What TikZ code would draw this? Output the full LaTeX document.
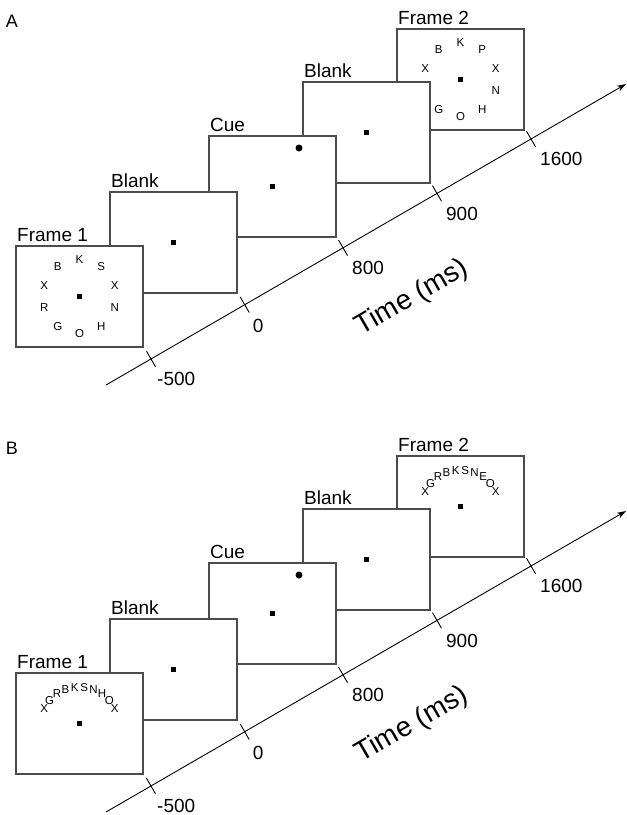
\documentclass[tikz,border=0pt]{standalone}
\usepackage{fontspec}
\setmainfont{Liberation Sans}
\usetikzlibrary{calc,arrows.meta}
\tikzset{
  scrbox/.style={draw=black!70, line width=1.2pt, fill=white, minimum width=127pt, minimum height=101pt, inner sep=0pt, outer sep=0pt},
  fixdot/.style={fill=black, minimum size=5.5pt, inner sep=0pt},
  cuedot/.style={circle, fill=black, minimum size=7pt, inner sep=0pt},
  boxlab/.style={font=\fontsize{19}{22}\selectfont, anchor=base west, inner sep=0pt},
  ltr/.style={font=\fontsize{11.5}{13}\selectfont, inner sep=0pt},
  ticklab/.style={font=\fontsize{19}{22}\selectfont, anchor=north west, inner sep=0pt},
  tickmark/.style={line width=0.9pt},
  timeaxis/.style={line width=0.9pt, -{Stealth[length=9pt,width=6pt]}},
  timelab/.style={font=\fontsize{28}{32}\selectfont, rotate=30, inner sep=0pt},
  panlab/.style={font=\fontsize{18}{20}\selectfont, inner sep=0pt}
}
\newcommand{\timepanel}[3]{%
\begin{scope}[yshift=#2]
  \node[panlab] (#1pl) at (12,21) {#3};
  \node[scrbox] (#1f2) at (460.5,79.5) {};
  \node[scrbox] (#1b2) at (366.5,132.5) {};
  \node[scrbox] (#1cue) at (272.5,186.5) {};
  \node[scrbox] (#1b1) at (173.5,242.5) {};
  \node[scrbox] (#1f1) at (79.5,296.5) {};
  \node[boxlab] (#1lf2) at ($(#1f2.north west)+(1,-4.5)$) {Frame 2};
  \node[boxlab] (#1lb2) at ($(#1b2.north west)+(1,-4.5)$) {Blank};
  \node[boxlab] (#1lcue) at ($(#1cue.north west)+(1,-4.5)$) {Cue};
  \node[boxlab] (#1lb1) at ($(#1b1.north west)+(1,-4.5)$) {Blank};
  \node[boxlab] (#1lf1) at ($(#1f1.north west)+(1,-4.5)$) {Frame 1};
  \node[fixdot] (#1xf2) at (#1f2.center) {};
  \node[fixdot] (#1xb2) at (#1b2.center) {};
  \node[fixdot] (#1xcue) at (#1cue.center) {};
  \node[fixdot] (#1xb1) at (#1b1.center) {};
  \node[fixdot] (#1xf1) at (#1f1.center) {};
  \node[cuedot] (#1cd) at ($(#1cue.center)+(26.5,-38.5)$) {};
  \coordinate (#1s) at (106,385);
  \coordinate (#1e) at (626,84);
  \draw[timeaxis] (#1s) -- (#1e);
  \path (#1s) -- (#1e)
    coordinate[pos=0.0865] (#1t1)
    coordinate[pos=0.2667] (#1t2)
    coordinate[pos=0.4558] (#1t3)
    coordinate[pos=0.6365] (#1t4)
    coordinate[pos=0.8173] (#1t5);
  \draw[tickmark] ($(#1t1)!9pt!90:(#1e)$) -- ($(#1t1)!9pt!-90:(#1e)$);
  \draw[tickmark] ($(#1t2)!9pt!90:(#1e)$) -- ($(#1t2)!9pt!-90:(#1e)$);
  \draw[tickmark] ($(#1t3)!9pt!90:(#1e)$) -- ($(#1t3)!9pt!-90:(#1e)$);
  \draw[tickmark] ($(#1t4)!9pt!90:(#1e)$) -- ($(#1t4)!9pt!-90:(#1e)$);
  \draw[tickmark] ($(#1t5)!9pt!90:(#1e)$) -- ($(#1t5)!9pt!-90:(#1e)$);
  \node[ticklab] (#1l1) at ($(#1t1)+(6,13)$) {-500};
  \node[ticklab] (#1l2) at ($(#1t2)+(8,14)$) {0};
  \node[ticklab] (#1l3) at ($(#1t3)+(9,13.5)$) {800};
  \node[ticklab] (#1l4) at ($(#1t4)+(9,13.5)$) {900};
  \node[ticklab] (#1l5) at ($(#1t5)+(9,13)$) {1600};
  \node[timelab] (#1time) at (412,298) {Time (ms)};
\end{scope}}
\begin{document}
\begin{tikzpicture}[x=1pt,y=-1pt]
\useasboundingbox (0,0) rectangle (627,815);
\timepanel{a}{0pt}{A}
\timepanel{b}{-427pt}{B}
% panel A letters (ring)
\foreach \ang/\l [count=\i] in {90/K,126/B,162/X,198/R,234/G,270/O,306/H,342/N,18/X,54/S}
  \node[ltr] (af1l\i) at ($(af1.center)+(\ang:37pt)$) {\l};
\foreach \ang/\l [count=\i] in {90/K,126/B,162/X,234/G,270/O,306/H,342/N,18/X,54/P}
  \node[ltr] (af2l\i) at ($(af2.center)+(\ang:37pt)$) {\l};
% panel B letters (arc)
\foreach \ang/\l [count=\i] in {152/X,138.2/G,124.4/R,110.7/B,96.9/K,83.1/S,69.3/N,55.6/H,41.8/O,28/X}
  \node[ltr] (bf1l\i) at ($(bf1.center)+(0,3.5)+(\ang:40pt)$) {\l};
\foreach \ang/\l [count=\i] in {152/X,138.2/G,124.4/R,110.7/B,96.9/K,83.1/S,69.3/N,55.6/E,41.8/O,28/X}
  \node[ltr] (bf2l\i) at ($(bf2.center)+(0,3.5)+(\ang:40pt)$) {\l};
\end{tikzpicture}
\end{document}
